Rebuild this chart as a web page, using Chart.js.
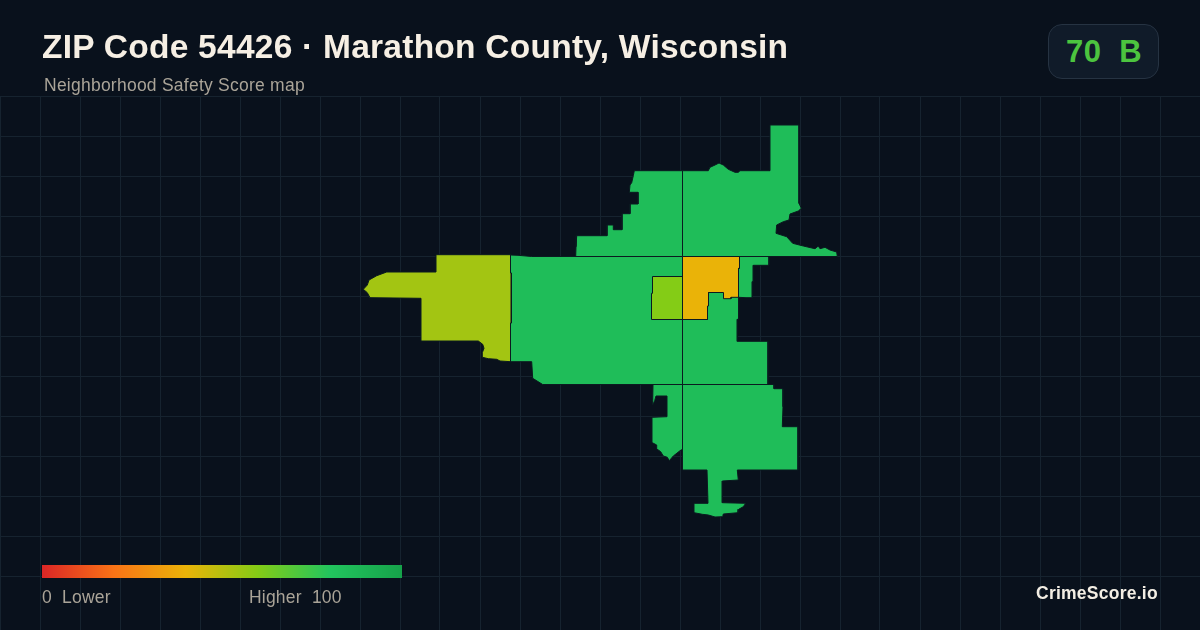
<!DOCTYPE html>
<html>
<head>
<meta charset="utf-8">
<title>ZIP Code 54426 map</title>
<script src="https://cdn.jsdelivr.net/npm/chart.js@4/dist/chart.umd.min.js"></script>
<style>
  html, body { margin: 0; padding: 0; background: #09111c; }
  body { position: relative; width: 1200px; height: 630px; overflow: hidden; font-family: "Liberation Sans", Arial, sans-serif; }
  canvas { position: absolute; left: 0; top: 0; }
  .txt { position: absolute; white-space: pre; line-height: 1; }
  #title { left: 42px; top: 30px; font-size: 33.5px; font-weight: 700; letter-spacing: 0.25px; color: #f6efe4; }
  #subtitle { left: 44px; top: 77px; font-size: 17.5px; letter-spacing: 0.24px; color: #aaa498; }
  #badge { position: absolute; left: 1048px; top: 24px; width: 109px; height: 53px; box-sizing: content-box; border: 1px solid #263342; border-radius: 14px; background: #101b29; }
  #grade { left: 1066px; top: 36px; font-size: 31px; font-weight: 700; letter-spacing: 0.4px; color: #4cc43f; }
  #ramp { position: absolute; left: 42px; top: 565px; width: 360px; height: 13px; }
  .leg { top: 589px; font-size: 17.5px; letter-spacing: 0.2px; color: #aaa498; }
  #brand { left: 1036px; top: 585px; font-size: 17.5px; font-weight: 700; letter-spacing: 0.25px; color: #f3eee4; }
</style>
</head>
<body>
<canvas id="map" width="1200" height="630"></canvas>
<div class="txt" id="title">ZIP Code 54426 · Marathon County, Wisconsin</div>
<div class="txt" id="subtitle">Neighborhood Safety Score map</div>
<div id="badge"></div>
<div class="txt" id="grade">70  B</div>
<div id="ramp"></div>
<div class="txt leg" id="lowLabel" style="left:42px">0  Lower</div>
<div class="txt leg" id="highLabel" style="left:249px">Higher  100</div>
<div class="txt" id="brand">CrimeScore.io</div>

<script>
// map units: same size as the 40-wide grid cells, y counted down from the top of the grid
const west = [[436,158.7],[510.5,158.7],[510.5,177],[511.3,177],[511.3,227],[510.5,227],[510.5,265.7],[500,265],[496.7,263.3],[488.3,262.7],[482.3,261.3],[482.3,256.7],[484,252.3],[482.7,248.3],[478.3,245],[421,245],[421,202.3],[370,201.7],[367.3,196.7],[363.3,193.3],[367.3,189],[369,184],[376.7,179.7],[386.7,176],[436,176]];
const centerWest = [[510.5,159],[518,159.3],[531.7,160.5],[682.5,160.5],[682.5,288.5],[542.7,288.5],[532.7,282.3],[531.7,265.7],[510.5,265.7],[510.5,227],[511.3,227],[511.3,177],[510.5,177]];
const inner = [[652.5,180.5],[682.5,180.5],[682.5,223.5],[651.5,223.5],[651.5,197.3],[652.5,197.3]];
const downtown = [[682.5,160.5],[739.5,160.5],[739.5,172.3],[738.5,172.3],[738.5,201.3],[731,201.3],[731,202.7],[723.5,202.7],[723.5,196.5],[708.5,196.5],[708.5,210],[707.5,210],[707.5,223.5],[682.5,223.5]];
const centerEast = [[682.5,160.5],[769,160.5],[769,169.3],[753.3,169.3],[753.3,185.7],[752.3,185.7],[752.3,201.7],[746,201.7],[738.5,201.3],[738.5,223.3],[737.3,223.3],[737.3,245.3],[768,245.3],[768,288.5],[682.5,288.5]];
const northWest = [[682.5,74.7],[634.3,74.7],[633.3,79.7],[631.7,86.7],[630,89],[629.3,96.3],[638,96.3],[638,108],[630,108],[630,117.7],[622,117.7],[622,133.7],[613.3,133.7],[613.3,129],[607,129],[607,139.7],[576.7,139.7],[576,150.7],[575.7,160.5],[682.5,160.5]];
const northEast = [[682.5,74.7],[708.3,74.7],[710,71.3],[715,69],[719,67],[723.3,69],[728.3,73.3],[735,76.3],[738.3,76.3],[740,74.7],[770,74.7],[770,29],[799,29],[799,107.3],[801.3,112.3],[798.3,115],[790,118],[789,124],[783.3,125.7],[776.7,129],[776,137.3],[786.7,140.7],[792.7,147.3],[803.3,150],[815,152.7],[818.3,150],[820,152.7],[825,151.3],[830,154],[836.7,156],[837.3,160.5],[682.5,160.5]];
const southWest = [[653,288.5],[682.5,288.5],[682.5,353.3],[680,354.7],[673.3,360],[669.3,364.7],[667.3,361.3],[663.3,360],[660.7,355.7],[656,352.3],[656.7,349],[652.3,346.7],[652,321.3],[667,320.7],[667,300],[656,300],[654.7,304.7],[652.7,309],[652.7,304.7]];
const southEast = [[682.5,288.5],[774,288.5],[774,292.7],[783,292.7],[783,310.7],[782.3,330.7],[798,330.7],[798,374],[737.3,374],[738.3,384],[722.3,385],[722.3,406.7],[745.7,407.3],[743.3,410.7],[738.7,413.3],[738,416.7],[723.3,418],[722.7,420.7],[715,421],[708.3,419],[702.3,418.3],[694,416.7],[694,407.3],[708,407.3],[707,374],[682.5,374]];

// first listed draws on top
const regions = [inner, downtown, west, centerWest, centerEast, northWest, northEast, southWest, southEast];
const regionScores = [60, 40, 54, 85, 85, 85, 85, 85, 85];

const scoreStops = [0, 20, 40, 60, 80, 100];
const stopColors = ['#dc2626', '#f97316', '#eab308', '#84cc16', '#22c55e', '#16a34a'];

function hexToRgb(hex) {
  return [1, 3, 5].map(i => parseInt(hex.slice(i, i + 2), 16));
}

// Same ramp as the legend bar
function scoreColor(score) {
  let i = 0;
  while (i < scoreStops.length - 2 && score > scoreStops[i + 1]) i++;
  const t = (score - scoreStops[i]) / (scoreStops[i + 1] - scoreStops[i]);
  const a = hexToRgb(stopColors[i]);
  const b = hexToRgb(stopColors[i + 1]);
  return `rgb(${a.map((v, k) => Math.round(v + (b[k] - v) * t)).join(',')})`;
}

document.getElementById('ramp').style.background =
  `linear-gradient(90deg, ${stopColors.map((c, i) => `${c} ${scoreStops[i]}%`).join(', ')})`;

const gridColor = '#16232f';

new Chart(document.getElementById('map'), {
  type: 'scatter',
  data: {
    datasets: regions.map((ring, i) => ({
      data: ring.concat([ring[0]]).map(p => ({ x: p[0], y: p[1] })),
      showLine: true,
      fill: 'shape',
      tension: 0,
      pointRadius: 0,
      borderWidth: 1,
      borderColor: '#0b1a20',
      backgroundColor: scoreColor(regionScores[i]),
    })),
  },
  options: {
    responsive: false,
    animation: false,
    layout: { padding: { top: 96 } },
    plugins: { legend: { display: false }, tooltip: { enabled: false } },
    scales: {
      x: {
        min: 0,
        max: 1200,
        ticks: { stepSize: 40, display: false },
        grid: { color: gridColor, drawTicks: false },
        border: { display: false },
      },
      y: {
        reverse: true,
        min: 0,
        max: 534,
        ticks: { stepSize: 40, display: false },
        grid: { color: gridColor, drawTicks: false },
        border: { display: false },
      },
    },
  },
});
</script>
</body>
</html>
